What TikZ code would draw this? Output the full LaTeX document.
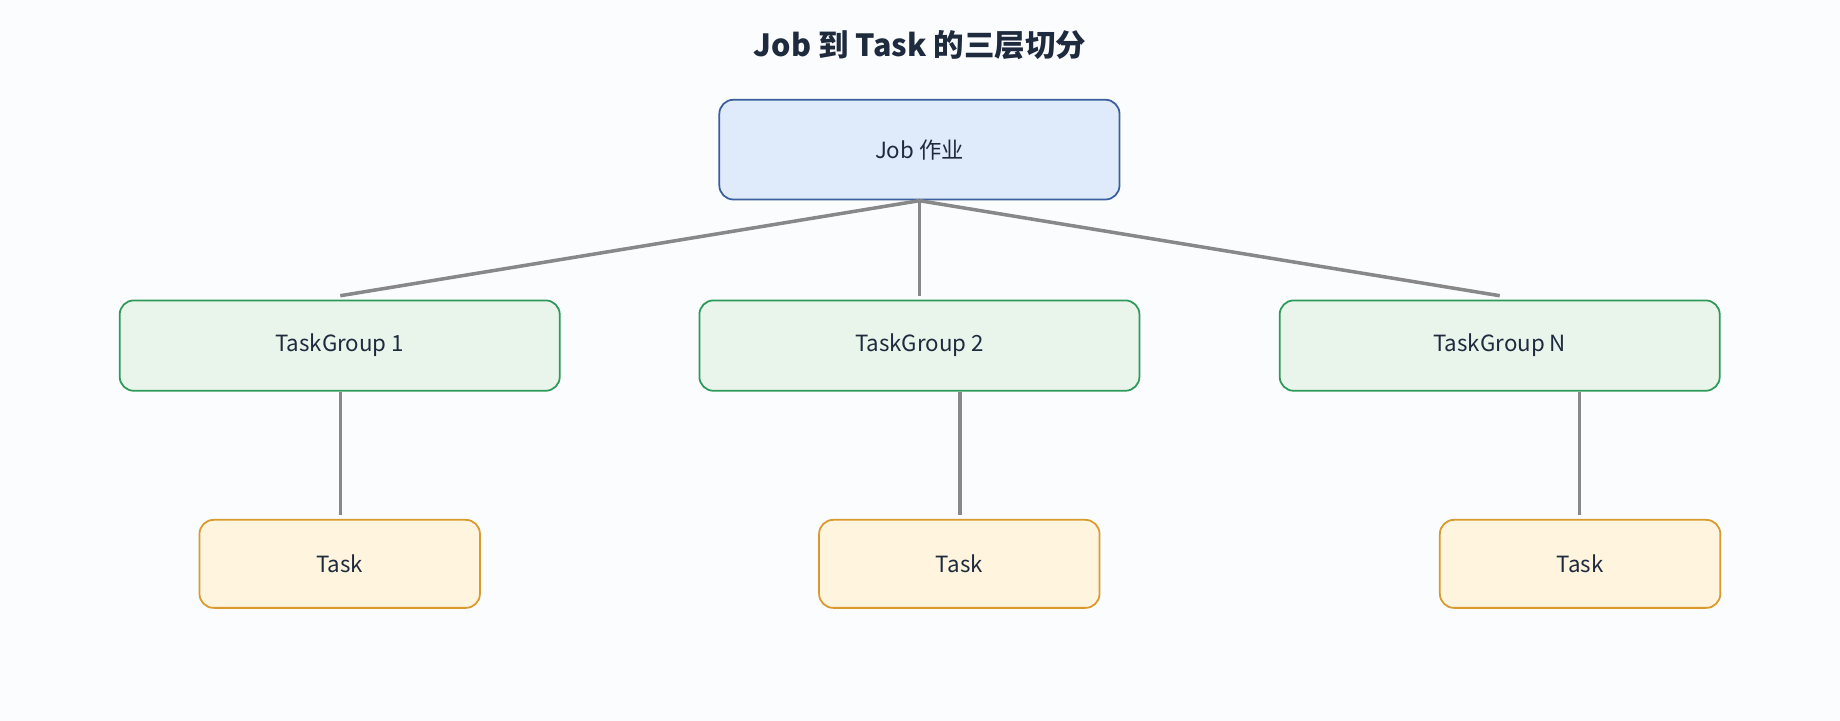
\documentclass[tikz,border=0pt]{standalone}
\usepackage{fontspec}
\setmainfont{Noto Sans CJK SC}
\begin{document}
\begin{tikzpicture}[x=1pt,y=-1pt,
  box/.style={draw,rounded corners=12pt,line width=1.5pt,inner sep=0pt,font=\fontsize{19}{22}\selectfont,text=txt},
  job/.style={box,fill=jobf,draw=jobd},
  tg/.style={box,fill=tgf,draw=tgd,minimum width=375pt,minimum height=77pt},
  task/.style={box,fill=tkf,draw=tkd,minimum width=239pt,minimum height=75pt},
  ln/.style={draw=lc,line width=3pt}]
\definecolor{bg}{HTML}{FBFCFE}\definecolor{txt}{HTML}{1E2A3E}
\definecolor{jobf}{HTML}{DFEAFA}\definecolor{jobd}{HTML}{3A5F9E}
\definecolor{tgf}{HTML}{E9F5EA}\definecolor{tgd}{HTML}{2E9A5A}
\definecolor{tkf}{HTML}{FFF4DE}\definecolor{tkd}{HTML}{D99A2E}
\definecolor{lc}{HTML}{888888}
\fill[bg] (0,0) rectangle (1568,614);
\useasboundingbox (0,0) rectangle (1568,614);
\node[text=txt,font=\fontsize{26}{30}\selectfont\bfseries] (title) at (784,38) {Job 到 Task 的三层切分};
\node[job,minimum width=341pt,minimum height=85pt] (job) at (783.5,127.5) {Job 作业};
\node[tg] (g1) at (289.5,294.5) {TaskGroup 1};
\node[tg] (g2) at (783.5,294.5) {TaskGroup 2};
\node[tg] (g3) at (1278,294.5) {TaskGroup N};
\node[task] (t1) at (289.5,480.5) {Task};
\node[task] (t2) at (817.5,480.5) {Task};
\node[task] (t3) at (1346.5,480.5) {Task};
\coordinate (j) at (783.5,171);
\coordinate (e1) at (290,252);\coordinate (e2) at (783.5,252);\coordinate (e3) at (1278,252);
\coordinate (a1) at (290,334);\coordinate (b1) at (290,439);
\coordinate (a2) at (818,334);\coordinate (b2) at (818,439);
\coordinate (a3) at (1346,334);\coordinate (b3) at (1346,439);
\draw[ln] (j)--(e1); \draw[ln] (j)--(e2); \draw[ln] (j)--(e3);
\draw[ln] (a1)--(b1); \draw[ln] (a2)--(b2); \draw[ln] (a3)--(b3);
\end{tikzpicture}
\end{document}
